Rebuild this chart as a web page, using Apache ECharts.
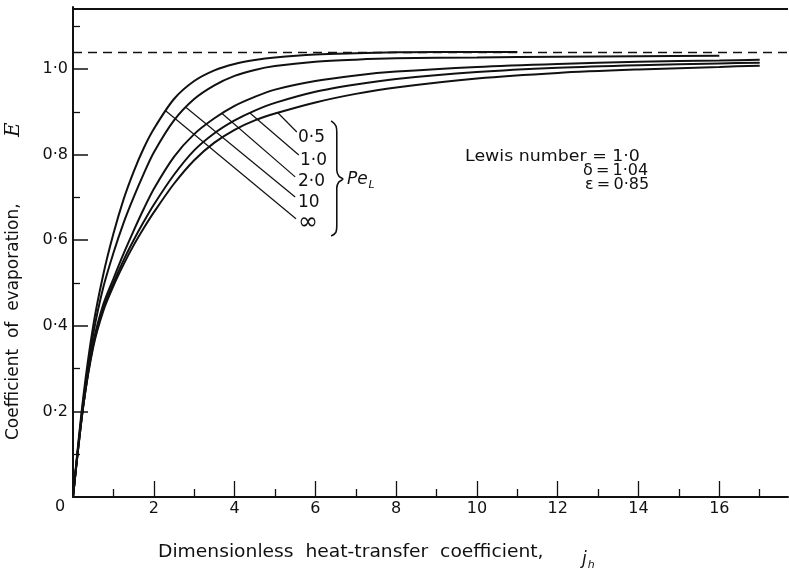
<!DOCTYPE html>
<html><head><meta charset="utf-8">
<script src="https://cdn.jsdelivr.net/npm/echarts@6/dist/echarts.min.js"></script>
<style>html,body{margin:0;padding:0;background:#fff}#c{width:789px;height:573px}</style>
</head><body><div id="c"></div>
<script>
// ---- data ----
const jhInf = [0,0.25,0.5,0.75,1,1.25,1.5,1.75,2,2.5,3,3.5,4,4.5,5,6,7,8,9,10,11];
const E_inf = [0,0.23,0.40,0.52,0.615,0.695,0.76,0.815,0.86,0.93,0.972,0.997,1.012,1.021,1.027,1.034,1.037,1.039,1.04,1.04,1.04];
const jh10 = [0,0.25,0.5,0.75,1,1.25,1.5,1.75,2,2.5,3,3.5,4,4.5,5,6,7,8,10,12,14,16];
const E_10 = [0,0.22,0.38,0.49,0.57,0.64,0.70,0.755,0.805,0.88,0.93,0.962,0.984,0.998,1.007,1.017,1.022,1.025,1.027,1.029,1.03,1.031];
const jhRest = [0,0.25,0.5,0.75,1,1.25,1.5,1.75,2,2.5,3,3.5,4,4.5,5,6,7,8,10,12,14,16,17];
const E_2 = [0,0.21,0.36,0.45,0.51,0.568,0.622,0.673,0.72,0.795,0.848,0.885,0.914,0.935,0.952,0.972,0.985,0.994,1.005,1.012,1.017,1.02,1.022];
const E_1 = [0,0.21,0.355,0.44,0.50,0.553,0.60,0.643,0.683,0.753,0.81,0.85,0.88,0.903,0.921,0.947,0.964,0.977,0.993,1.003,1.009,1.013,1.015];
const E_05 = [0,0.21,0.35,0.435,0.493,0.543,0.588,0.628,0.665,0.732,0.787,0.828,0.858,0.88,0.896,0.922,0.942,0.957,0.978,0.991,0.999,1.005,1.008];

const peLabels = ['\u221e','10','2\u00b70','1\u00b70','0\u00b75'];
const leaderStartJh = [2.30, 2.80, 3.69, 4.38, 5.07];
const leaderEndJh = [5.52, 5.50, 5.50, 5.59, 5.54];
const leaderEndE = [0.650, 0.701, 0.748, 0.799, 0.853];
const labelJh = [5.57, 5.57, 5.57, 5.62, 5.57];
const labelE = [0.640, 0.689, 0.736, 0.787, 0.841];

const braceJh = [6.39,6.51,6.53,6.53,6.58,6.68,6.58,6.53,6.53,6.51,6.39];
const braceE = [0.879,0.867,0.853,0.764,0.750,0.743,0.736,0.722,0.633,0.619,0.610];

const delta = 1.04;
const frameTop = 1.14;
const xMajor = [0,2,4,6,8,10,12,14,16];
const xLabels = [2,4,6,8,10,12,14,16];
const xMinor = [1,3,5,7,9,11,13,15,17];
const yMajor = [0.2,0.4,0.6,0.8,1.0];
const yMinor = [0.1,0.3,0.5,0.7,0.9,1.1];

// ---- build ----
const INK = '#111';
const FONT = 'DejaVu Sans';
const zip = (xs, ys) => xs.map((x, i) => [x, ys[i]]);
function interp(xs, ys, x) {
  for (let i = 1; i < xs.length; i++) {
    if (x <= xs[i]) { const t = (x - xs[i-1]) / (xs[i] - xs[i-1]); return ys[i-1] + t * (ys[i] - ys[i-1]); }
  }
  return ys[ys.length - 1];
}
const curves = [[jhInf,E_inf],[jh10,E_10],[jhRest,E_2],[jhRest,E_1],[jhRest,E_05]];

const series = [];
curves.forEach((c, i) => {
  series.push({ type: 'line', data: zip(c[0], c[1]), smooth: 0.3, showSymbol: false, symbol: 'none',
    lineStyle: { color: INK, width: 2 }, z: 3, silent: true,
    markLine: i === 0 ? { silent: true, symbol: 'none', label: { show: false },
      data: [
        { yAxis: delta, lineStyle: { type: [9, 6], color: INK, width: 1.3 } },
        { yAxis: frameTop, lineStyle: { type: 'solid', color: INK, width: 2 } }
      ] } : undefined
  });
});
leaderStartJh.forEach((x, i) => {
  const c = curves[i];
  series.push({ type: 'line', data: [[x, interp(c[0], c[1], x)], [leaderEndJh[i], leaderEndE[i]]],
    showSymbol: false, symbol: 'none', lineStyle: { color: INK, width: 1.2 }, silent: true, z: 2 });
});
series.push({ type: 'line', data: zip(braceJh, braceE), smooth: 0.4, showSymbol: false, symbol: 'none',
  lineStyle: { color: INK, width: 1.6 }, silent: true });
series.push({ type: 'scatter', symbolSize: 0, silent: true, itemStyle: { opacity: 1 },
  data: labelJh.map((x, i) => ({ value: [x, labelE[i]], name: peLabels[i] })),
  label: { show: true, position: 'right', distance: 0, opacity: 1,
    formatter: p => p.name === '\u221e' ? '{inf|' + p.name + '}' : '{n|' + p.name + '}',
    rich: { n: { fontFamily: FONT, fontSize: 17, color: INK },
            inf: { fontFamily: FONT, fontSize: 24, color: INK } } } });
series.push({ type: 'scatter', symbolSize: 0, silent: true, itemStyle: { opacity: 1 },
  data: [{ value: [6.78, 0.741] }],
  label: { show: true, position: 'right', distance: 0, opacity: 1, formatter: '{a|Pe}{b|L}',
    rich: { a: { fontFamily: FONT, fontSize: 17, fontStyle: 'italic', color: INK },
            b: { fontFamily: FONT, fontSize: 11, fontStyle: 'italic', color: INK, padding: [10, 0, 0, 1] } } } });

const chart = echarts.init(document.getElementById('c'), null, { renderer: 'canvas' });
chart.setOption({
  animation: false,
  backgroundColor: '#fff',
  grid: { left: 73, right: 1, top: 7, bottom: 76 },
  xAxis: [
    { type: 'value', min: 0, max: 17.7, splitLine: { show: false },
      axisLine: { lineStyle: { color: INK, width: 2 } },
      axisTick: { inside: true, length: 16, customValues: xMajor, lineStyle: { color: INK, width: 1.3 } },
      axisLabel: { customValues: xLabels, fontFamily: FONT, fontSize: 16, color: INK, margin: 4 } },
    { type: 'value', min: 0, max: 17.7, position: 'bottom', offset: 0, splitLine: { show: false },
      axisLine: { show: false },
      axisTick: { inside: true, length: 8, customValues: xMinor, lineStyle: { color: INK, width: 1.3 } },
      axisLabel: { show: false } }
  ],
  yAxis: [
    { type: 'value', min: 0, max: 1.145, splitLine: { show: false },
      axisLine: { lineStyle: { color: INK, width: 2 } },
      axisTick: { inside: true, length: 15, customValues: yMajor, lineStyle: { color: INK, width: 1.5 } },
      axisLabel: { customValues: yMajor, fontFamily: FONT, fontSize: 16, color: INK, margin: 5,
        formatter: v => v.toFixed(1).replace('.', '\u00b7') } },
    { type: 'value', min: 0, max: 1.145, position: 'left', offset: 0, splitLine: { show: false },
      axisLine: { show: false },
      axisTick: { inside: true, length: 7, customValues: yMinor, lineStyle: { color: INK, width: 1.3 } },
      axisLabel: { show: false } }
  ],
  series: series,
  graphic: [
    { type: 'text', left: 55, top: 499, style: { text: '0', font: '16px "DejaVu Sans"', fill: INK } },
    { type: 'text', x: 465, y: 149, scaleX: 1.087, style: { text: 'Lewis number = 1\u00b70', font: '16px "DejaVu Sans"', fill: INK } },
    { type: 'text', x: 583, y: 163, style: { text: '\u03b4\u2009=\u20091\u00b704', font: '16px "DejaVu Sans"', fill: INK } },
    { type: 'text', x: 585, y: 177, style: { text: '\u03b5\u2009=\u20090\u00b785', font: '16px "DejaVu Sans"', fill: INK } },
    { type: 'text', x: 158, y: 544, scaleX: 1.1, style: { text: 'Dimensionless  heat-transfer  coefficient,', font: '17px "DejaVu Sans"', fill: INK } },
    { type: 'text', x: 582, y: 548, style: { text: '{a|j}{b|h}', rich: {
        a: { font: 'italic 17px "DejaVu Sans"', fill: INK },
        b: { font: 'italic 11px "DejaVu Sans"', fill: INK, padding: [12, 0, 0, 1] } } } },
    { type: 'text', x: 5, y: 440, rotation: Math.PI / 2, style: { text: 'Coefficient  of  evaporation,', font: '17px "DejaVu Sans"', fill: INK } },
    { type: 'text', x: 4, y: 137, rotation: Math.PI / 2, style: { text: 'E', font: 'italic 20px "DejaVu Serif"', fill: INK } }
  ]
});
</script>
</body></html>
